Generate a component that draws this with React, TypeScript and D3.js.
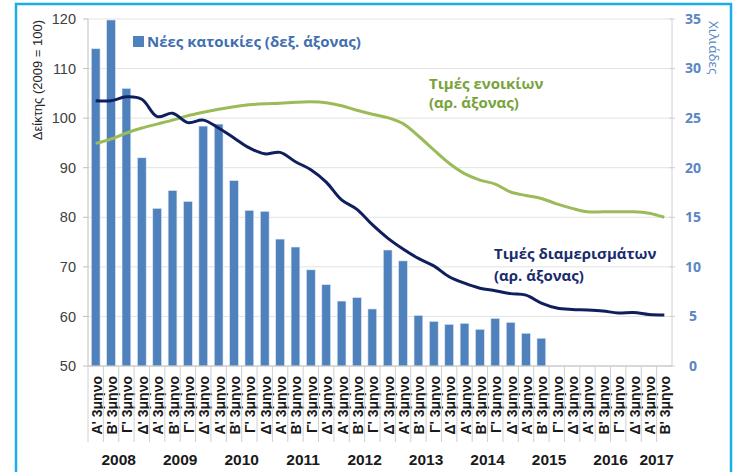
import React from "react";
import * as d3 from "d3";

// quarters 2008 Q1 .. 2017 Q2
const quarterLabels = [
  "Α' 3μηνο", "Β' 3μηνο", "Γ' 3μηνο", "Δ' 3μηνο",
  "Α' 3μηνο", "Β' 3μηνο", "Γ' 3μηνο", "Δ' 3μηνο",
  "Α' 3μηνο", "Β' 3μηνο", "Γ' 3μηνο", "Δ' 3μηνο",
  "Α' 3μηνο", "Β' 3μηνο", "Γ' 3μηνο", "Δ' 3μηνο",
  "Α' 3μηνο", "Β' 3μηνο", "Γ' 3μηνο", "Δ' 3μηνο",
  "Α' 3μηνο", "Β' 3μηνο", "Γ' 3μηνο", "Δ' 3μηνο",
  "Α' 3μηνο", "Β' 3μηνο", "Γ' 3μηνο", "Δ' 3μηνο",
  "Α' 3μηνο", "Β' 3μηνο", "Γ' 3μηνο", "Δ' 3μηνο",
  "Α' 3μηνο", "Β' 3μηνο", "Γ' 3μηνο", "Δ' 3μηνο",
  "Α' 3μηνο", "Β' 3μηνο",
];
const yearLabels = ["2008", "2009", "2010", "2011", "2012", "2013", "2014", "2015", "2016", "2017"];
const quartersPerYear = [4, 4, 4, 4, 4, 4, 4, 4, 4, 2];

// new dwellings, thousands (right axis)
const newHomes = [
  32, 34.9, 28, 21, 15.9, 17.7, 16.6, 24.2, 24.4, 18.7, 15.7, 15.6,
  12.8, 12.0, 9.7, 8.2, 6.55, 6.9, 5.75, 11.7, 10.6, 5.1, 4.5, 4.2,
  4.3, 3.7, 4.8, 4.4, 3.3, 2.8,
];
// apartment price index (left axis)
const flatPrices = [
  103.5, 103.5, 104.3, 103.8, 100.3, 101, 99.1, 99.6, 98, 96, 94, 92.8,
  93.1, 91.2, 89.6, 87.1, 83.5, 81.6, 78.5, 75.8, 73.6, 71.7, 70.2, 68,
  66.7, 65.7, 65.2, 64.6, 64.3, 62.7, 61.7, 61.4, 61.3, 61.1, 60.7, 60.8,
  60.4, 60.3,
];
// rent index (left axis)
const rentPrices = [
  94.9, 95.8, 97, 98, 98.8, 99.6, 100.5, 101.2, 101.8, 102.3, 102.7, 102.9,
  103, 103.2, 103.3, 103.1, 102.5, 101.6, 100.8, 100.1, 98.9, 96.4, 93.6, 90.9,
  88.8, 87.5, 86.7, 85.1, 84.4, 83.8, 82.7, 81.8, 81.1, 81.1, 81.1, 81.1,
  80.8, 80,
];
const leftTicks = [50, 60, 70, 80, 90, 100, 110, 120];
const rightTicks = [0, 5, 10, 15, 20, 25, 30, 35];

const W = 740;
const H = 472;
const left = 88;
const right = 672;
const top = 19;
const bottom = 366;

const blue = "#4f81bd";
const navy = "#0f1f5e";
const green = "#9bbb59";
const arial = "'Liberation Sans', Arial, sans-serif";
const calibri = "'Open Sans', sans-serif";

export default function App() {
  const x = d3
    .scaleBand<number>()
    .domain(d3.range(quarterLabels.length))
    .range([left, right])
    .paddingInner(0.43)
    .paddingOuter(0.215);
  const step = x.step();
  const cx = (i: number) => (x(i) as number) + x.bandwidth() / 2;
  const yL = d3.scaleLinear().domain([50, 120]).range([bottom, top]);
  const yR = d3.scaleLinear().domain([0, 35]).range([bottom, top]);

  const line = d3
    .line<number>()
    .x((_, i) => cx(i))
    .y((d) => yL(d))
    .curve(d3.curveCatmullRom);

  // year group boundaries
  const starts = d3.cumsum([0, ...quartersPerYear]);

  return (
    <svg width={W} height={H} style={{ position: "absolute", left: 0, top: 0, background: "#fff" }}>
      <rect x={16} y={4} width={715} height={480} fill="#fff" stroke="#1aaee8" strokeWidth={2.5} />

      {/* gridlines */}
      {leftTicks.map((t) => (
        <line key={t} x1={left} x2={right} y1={yL(t)} y2={yL(t)} stroke="#e3e3e3" strokeWidth={1} />
      ))}

      {/* bars */}
      {newHomes.map((v, i) => (
        <rect
          key={i}
          x={x(i)}
          y={yR(v)}
          width={x.bandwidth()}
          height={bottom - yR(v)}
          fill={blue}
          stroke="#dce6f2"
          strokeWidth={0.6}
        />
      ))}

      {/* axes */}
      <line x1={left} x2={left} y1={top} y2={bottom} stroke="#bfbfbf" />
      <line x1={right} x2={right} y1={top} y2={bottom} stroke="#d0d0d0" />
      <line x1={left} x2={right} y1={bottom} y2={bottom} stroke="#bfbfbf" />
      {leftTicks.map((t) => (
        <g key={t}>
          <line x1={left - 5} x2={left} y1={yL(t)} y2={yL(t)} stroke="#bfbfbf" />
          <text x={76} y={yL(t)} dy="0.35em" textAnchor="end" fontFamily={arial} fontSize={14.5} fill="#404040">
            {t}
          </text>
        </g>
      ))}
      {rightTicks.map((t) => (
        <g key={t}>
          <line x1={right - 3} x2={right + 3} y1={yR(t)} y2={yR(t)} stroke="#d0d0d0" />
          <text x={693} y={yR(t)} dy="0.35em" textAnchor="middle" fontFamily={calibri} fontWeight="bold" fontSize={14} fill="#5a86c4">
            {t}
          </text>
        </g>
      ))}

      {/* axis titles */}
      <text
        transform={`translate(37,20) rotate(-90)`}
        textAnchor="end"
        dominantBaseline="central"
        fontFamily={arial}
        fontSize={13}
        fill="#262626"
      >
        Δείκτης (2009 = 100)
      </text>
      <text
        transform={`translate(714,21) rotate(90)`}
        textAnchor="start"
        dominantBaseline="central"
        fontFamily={calibri}
        fontSize={13.5}
        fill="#5a86c4"
      >
        Χιλιάδες
      </text>

      {/* category labels and separators */}
      {quarterLabels.map((q, i) => (
        <g key={i}>
          <line x1={left + i * step} x2={left + i * step} y1={bottom} y2={442} stroke="#d0d0d0" />
          <text
            transform={`translate(${cx(i) + 1},376) rotate(-90)`}
            textAnchor="end"
            dominantBaseline="central"
            fontFamily={arial}
            fontWeight="bold"
            fontSize={14}
            fill="#1a1a1a"
          >
            {q}
          </text>
        </g>
      ))}
      {starts.map((s, k) => (
        <line key={k} x1={left + s * step} x2={left + s * step} y1={bottom} y2={H} stroke="#d0d0d0" />
      ))}
      {yearLabels.map((yl, k) => (
        <text
          key={yl}
          x={left + ((starts[k] + starts[k + 1]) / 2) * step}
          y={465}
          textAnchor="middle"
          fontFamily={arial}
          fontWeight="bold"
          fontSize={15.5}
          fill="#1a1a1a"
        >
          {yl}
        </text>
      ))}

      {/* lines */}
      <path d={line(rentPrices) ?? ""} fill="none" stroke={green} strokeWidth={3} />
      <path d={line(flatPrices) ?? ""} fill="none" stroke={navy} strokeWidth={3} />

      {/* legend */}
      <rect x={133} y={36} width={11} height={11} fill={blue} />
      <text x={147} y={47} fontFamily={calibri} fontWeight="bold" fontSize={15} fill="#3f6fb1">
        Νέες κατοικίες (δεξ. άξονας)
      </text>

      {/* annotations */}
      <text fontFamily={calibri} fontWeight="bold" fontSize={15} fill="#77a33a">
        <tspan x={429} y={89}>Τιμές ενοικίων</tspan>
        <tspan x={429} y={108}>(αρ. άξονας)</tspan>
      </text>
      <text fontFamily={calibri} fontWeight="bold" fontSize={15} fill="#1a2c6c">
        <tspan x={494} y={259}>Τιμές διαμερισμάτων</tspan>
        <tspan x={494} y={281}>(αρ. άξονας)</tspan>
      </text>
    </svg>
  );
}
